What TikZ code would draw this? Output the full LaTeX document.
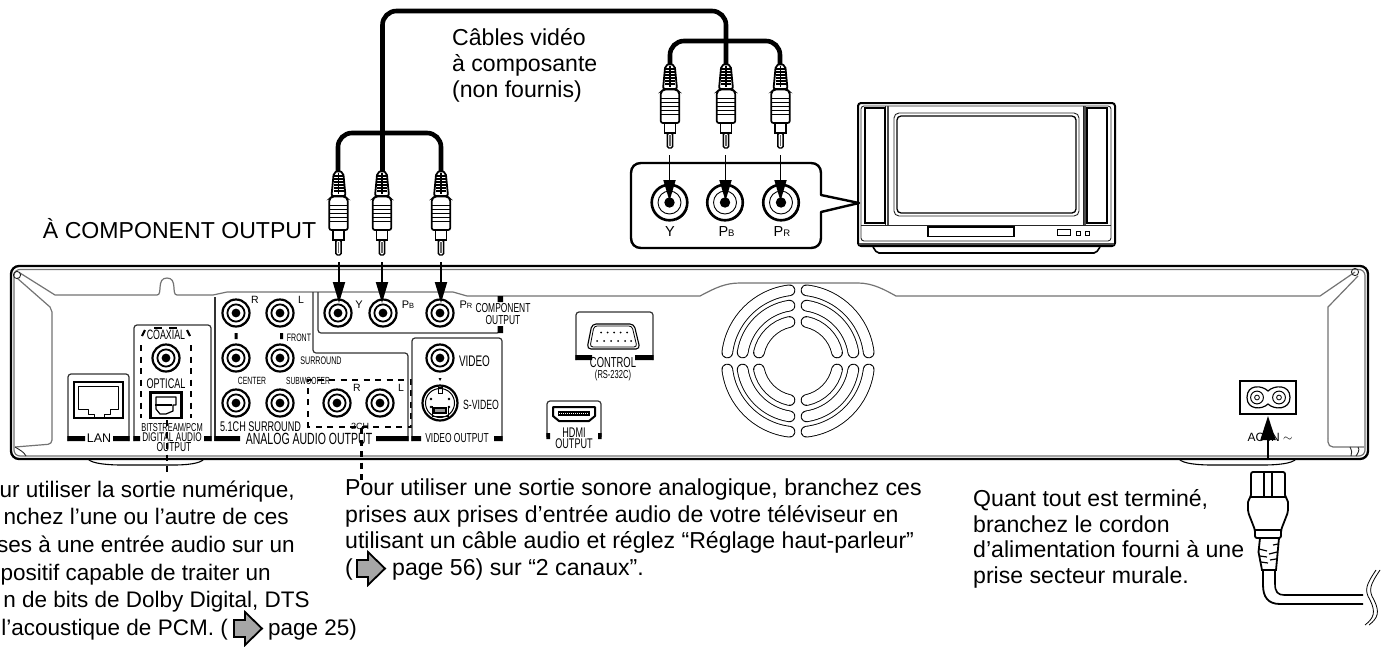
\documentclass[tikz,border=0pt]{standalone}
\usepackage{fontspec}
\setmainfont{Liberation Sans}
\newfontfamily\narrowg[FakeStretch=0.65]{Liberation Sans}
\usetikzlibrary{arrows.meta}
\newcommand\nf[1]{\narrowg\fontsize{#1}{#1}\selectfont}
\newcommand\pf[1]{\fontsize{#1}{#1}\selectfont}
\tikzset{
 x=1pt,y=-1pt,
 body/.style={font=\pf{23.1},anchor=base west,inner sep=0pt},
 bodyr/.style={font=\pf{23.1},anchor=base east,inner sep=0pt},
 bodyl/.style={font=\pf{22.5},anchor=base east,inner sep=0pt},
 lab/.style={inner sep=0pt},
 cable/.style={line width=4.6pt,rounded corners=14pt},
 sig/.style={line width=1.8pt,-{Triangle[length=21pt,width=12pt]},shorten >=0pt},
 thin1/.style={line width=0.9pt,black!85},
 panel/.style={line width=1.2pt,black!80,rounded corners=3pt},
 greyline/.style={line width=1.2pt,black!55},
 bar/.style={fill=black,draw=none},
 dsh/.style={line width=2.4pt,dash pattern=on 6pt off 5.5pt},
 go/.style={line width=1.8pt,draw=black,fill=black!35,line join=miter},
}
\newcommand\chjack[2]{%
 \fill[white] (#1,#2) circle (14.5);
 \draw[line width=2.2pt] (#1,#2) circle (13.5);
 \draw[line width=1.8pt] (#1,#2) circle (8.6);
 \fill (#1,#2) circle (4.4);
 \draw[line width=1.4pt] (#1,#2) ++(20:13.8) arc (20:70:13.8);
}
\newcommand\tvjack[2]{%
 \fill[white] (#1,#2) circle (19);
 \draw[line width=2.6pt] (#1,#2) circle (17.8);
 \draw[line width=0.9pt] (#1,#2) circle (11.5);
 \fill (#1,#2) circle (5.2);
 \draw[line width=1.6pt] (#1,#2) ++(20:18.4) arc (20:70:18.4);
}
\newcommand\rcaplug[2]{%
 \begin{scope}[shift={(#1,#2)}]
 \filldraw[fill=white,draw=black,line width=1.4pt,rounded corners=1.5pt] (-2.6,69) -- (-2.6,84) -- (2.6,84) -- (2.6,69) -- cycle;
 \fill[black!60] (-0.6,71) rectangle (0.6,82);
 \filldraw[fill=white,draw=black,line width=1.5pt] (-5.5,57) -- (-5.5,69) -- (5.5,69) -- (5.5,57) -- cycle;
 \filldraw[fill=white,draw=black,line width=1.7pt,rounded corners=2pt] (-9.2,28) -- (-9.2,59) -- (9.2,59) -- (9.2,28) -- (6.5,25.5) -- (-6.5,25.5) -- cycle;
 \foreach \yy in {34,38,42,46,50} \draw[line width=1pt] (-8.6,\yy) -- (8.6,\yy);
 \filldraw[fill=white,draw=black,line width=1.8pt,rounded corners=2pt] (-7,25) -- (-4.8,2) -- (0,-0.5) -- (4.8,2) -- (7,25) -- cycle;
 \foreach \yy in {5,8,11,14,17,20} \draw[line width=1.4pt] (-5,\yy) -- (5,\yy);
 \draw[line width=1.2pt] (0,2) -- (0,23);
 \end{scope}
}
\begin{document}
\begin{tikzpicture}
\useasboundingbox (0,0) rectangle (1384,646);
\fill[white] (0,0) rectangle (1384,646);

% chassis
\draw[line width=1.1pt,rounded corners=8pt] (88,459) .. controls (92,464) and (110,465) .. (130,465) -- (165,465) .. controls (185,465) and (200,464) .. (204,459);
\draw[line width=1.1pt,rounded corners=8pt] (1179,459) .. controls (1183,464) and (1200,465) .. (1220,465) -- (1255,465) .. controls (1275,465) and (1292,464) .. (1296,459);
\draw[line width=2.3pt,rounded corners=8pt] (11,459) rectangle (1368,266);
\draw[greyline,rounded corners=6pt] (14,456) rectangle (1365,269.5);
\draw[greyline] (20,273) -- (55,295) -- (157,295) .. controls (163,295) and (156,278) .. (167,278) .. controls (178,278) and (171,295) .. (177,295) -- (213,295) -- (227,292) -- (453,292) -- (467,296) -- (700,296) .. controls (715,288) and (725,283) .. (740,283) -- (858,283) .. controls (873,283) and (885,290) .. (896,296) -- (1320,296) -- (1355,272);
\draw[greyline] (17,278) -- (50,307) -- (52,312) -- (52,440);
\draw[greyline,rounded corners=4pt] (52,440) -- (52,444) -- (15,447);
\draw[greyline] (1358,276) -- (1328,307) -- (1328,438);
\draw[greyline,rounded corners=5pt] (1328,438) -- (1328,447) -- (1364,447);
\draw[thin1] (1355,272) circle (3.6);
\draw[thin1] (17,275) circle (3.6);
\draw[thin1] (1350,447) .. controls (1352,451) and (1352,453) .. (1351,456);
\draw[thin1] (1358,447) .. controls (1360,450) and (1358,453) .. (1356,456);
\draw[thin1] (15,447) .. controls (20,450) and (24,452) .. (26,456);

% fan
\foreach \r in {71.2,56,40}{
 \pgfmathsetmacro\d{asin(8.5/\r)}
 \foreach \q in {0,90,180,270}{
  \pgfmathsetmacro\aa{\q+\d}\pgfmathsetmacro\bb{\q+90-\d}
  \draw[line width=11.6pt,line cap=round] (798,361) ++(\aa:\r) arc (\aa:\bb:\r);
  \draw[white,line width=9.8pt,line cap=round] (798,361) ++(\aa:\r) arc (\aa:\bb:\r);
 }
}

% LAN
\draw[panel] (68,441) -- (68,374) -- (129,374) -- (129,441);
\fill[bar] (67.4,436) rectangle (85,441) (113,436) rectangle (129.6,441);
\node[lab,font=\pf{12.5}] (lan) at (99,438) {LAN};
\draw[line width=2.4pt] (74,382) rectangle (123,418);
\draw[line width=0.9pt,line join=round] (78,386) -- (118,386) -- (118,409) -- (110,409) -- (110,414) -- (104,414) -- (104,418.5) -- (94,418.5) -- (94,414) -- (88,414) -- (88,409) -- (78,409) -- cycle;

% digital audio
\draw[panel] (134,441) -- (134,325) -- (211,325) -- (211,441);
\fill[bar] (133.4,436) rectangle (140,441) (204,436) rectangle (211.6,441);
\node[lab,font=\nf{13.6}] (coax) at (166,335) {COAXIAL};
\node[lab,font=\nf{14}] (opt) at (166,384) {OPTICAL};
\draw[dsh] (141,345) -- (141,418);
\draw[dsh] (191,345) -- (191,418);
\draw[line width=2.2pt] (142,336) -- (145,330);
\draw[line width=2.2pt] (190,336) -- (187,330);
\draw[line width=2.2pt] (154,328) -- (162,328) (169,328) -- (177,328);
\chjack{166}{358}
\draw[line width=2.4pt] (150.5,392.5) rectangle (181.5,418);
\draw[line width=1.2pt,line join=round] (156,397) -- (176,397) -- (176,405) -- (173,405) -- (173,411) -- (166,414) -- (160,414) -- (156,409) -- cycle;
\draw[line width=1.2pt] (155,405) -- (172,405);
\node[lab,font=\nf{11.5}] (bits) at (172,427) {BITSTREAM/PCM};
\node[lab,font=\nf{12.6}] (dao) at (172,437.5) {DIGITAL AUDIO};
\node[lab,font=\nf{13}] (dao2) at (174,447.5) {OUTPUT};
\coordinate (dv1) at (167,420);\coordinate (dv2) at (167,475);
\draw[dsh] (dv1) -- (dv2);

% analog
\draw[panel] (215,441) -- (215,297);
\draw[panel] (313,292) -- (313,353) -- (408,353) -- (408,441);
\fill[bar] (214.4,436) rectangle (240,441) (376,436) rectangle (408.6,441);
\chjack{236}{313}\chjack{280}{313}\chjack{236}{358}\chjack{280}{358}\chjack{236}{403}\chjack{280}{403}
\fill[bar] (234.5,333) rectangle (237.5,339) (280,333) rectangle (283,339);
\node[lab,font=\pf{10.5}] (r1) at (255,300) {R};
\node[lab,font=\pf{10.5}] (l1) at (301,300) {L};
\node[lab,font=\nf{10.8}] (front) at (299,338) {FRONT};
\node[lab,font=\nf{11}] (surr) at (321,361) {SURROUND};
\node[lab,font=\nf{10.5}] (cen) at (252,381) {CENTER};
\node[lab,font=\nf{10.3}] (sub) at (308,381) {SUBWOOFER};
\node[lab,font=\nf{14}] (s51) at (260.5,427) {5.1CH SURROUND};
\node[lab,font=\nf{16.2}] (aao) at (309,438.5) {ANALOG AUDIO OUTPUT};
\draw[dsh] (308,428) -- (308,380) -- (411,380) -- (411,427) -- (308,427);
\chjack{337}{403}\chjack{380}{403}
\node[lab,font=\pf{10.5}] (r2) at (357,388) {R};
\node[lab,font=\pf{10.5}] (l2) at (401,388) {L};
\node[lab,font=\pf{9}] (ch2) at (360,426) {2CH};
\coordinate (av1) at (361.5,428);\coordinate (av2) at (361.5,481);
\draw[dsh] (av1) -- (av2);

% component
\draw[panel] (318,292) -- (318,333) -- (500,333) -- (500,328);
\fill[bar] (497.5,296) rectangle (503,302) (497.5,326) rectangle (503,333);
\chjack{338}{313}\chjack{383}{313}\chjack{440}{313}
\node[lab,font=\pf{11}] (ylab) at (359,305) {Y};
\node[lab,font=\pf{11}] (pb) at (408,305) {P\pf{7.5}B};
\node[lab,font=\pf{11}] (pr) at (466,305) {P\pf{7.5}R};
\node[lab,font=\nf{13}] (co1) at (503,308.5) {COMPONENT};
\node[lab,font=\nf{13}] (co2) at (503,320) {OUTPUT};

% video
\draw[panel] (412,441) -- (412,338) -- (502,338) -- (502,441);
\fill[bar] (411.4,436) rectangle (421,441) (494,436) rectangle (502.6,441);
\chjack{440}{358}
\node[lab,font=\nf{15.3}] (vid) at (474.5,361) {VIDEO};
\node[lab,font=\nf{13.4}] (svid) at (481,405) {S-VIDEO};
\node[lab,font=\nf{13}] (vo) at (457,438) {VIDEO OUTPUT};
\fill (438.5,378) -- (441.5,378) -- (440,381) -- cycle;
\draw[line width=2.2pt] (440,403) circle (17.5);
\draw[line width=1pt] (440,403) circle (14.5);
\draw[line width=1pt] (438,387) rectangle (442,393);
\draw[line width=1.4pt,fill=black!40] (434,408) rectangle (446,413);
\draw[line width=1pt] (432,406) -- (432,416) -- (448,416) -- (448,406);
\foreach \p in {(431,399),(449,399),(431,407),(449,407)} \fill \p circle (1.4);

% control
\draw[panel] (576,360) -- (576,312) -- (653,312) -- (653,360);
\fill[bar] (575.4,355) rectangle (592,360) (635,355) rectangle (653.6,360);
\draw[line width=1.1pt,rounded corners=4pt] (592,324) -- (634,324) -- (640,349) -- (587,349) -- cycle;
\draw[line width=0.8pt,rounded corners=3pt] (594,326) -- (632,326) -- (637,347) -- (590,347) -- cycle;
\foreach \xx in {601,607.5,614,620.5,627} \fill (\xx,332.5) circle (1);
\foreach \xx in {597,604,611,618,625,631} \fill (\xx,341) circle (1);
\node[lab,font=\nf{14.5}] (ctrl) at (613,363) {CONTROL};
\node[lab,font=\nf{11.6}] (rs) at (613,375) {(RS-232C)};

% hdmi
\draw[panel] (547,437) -- (547,401) -- (601,401) -- (601,437);
\fill[bar] (546.4,433) rectangle (550,439) (598,433) rectangle (601.6,439);
\draw[line width=2pt,line join=round] (553,407) -- (595,407) -- (595,416) -- (589,421) -- (559,421) -- (553,416) -- cycle;
\fill (558,411) rectangle (590,416);
\draw[white,line width=0.5pt,dash pattern=on 1pt off 1pt] (559,413.5) -- (589,413.5);
\node[lab,font=\nf{14}] (hd1) at (574,432.5) {HDMI};
\node[lab,font=\nf{14}] (hd2) at (574,444) {OUTPUT};

% AC
\draw[line width=2.2pt] (1240,381) rectangle (1296,414);
\draw[line width=1.2pt,fill=white] (1268,391) .. controls (1262,385) and (1247,384) .. (1247,397.5) .. controls (1247,410) and (1262,410) .. (1268,404) .. controls (1274,410) and (1290,410) .. (1290,397.5) .. controls (1290,384) and (1274,385) .. (1268,391) -- cycle;
\foreach \xx in {1257,1279}{\draw[line width=1pt] (\xx,397.5) circle (6.4);\draw[line width=0.8pt] (\xx,397.5) circle (2.4);}
\node[lab,font=\pf{12}] (acin) at (1270,437.5) {AC IN $\sim$};
\coordinate (ac0) at (1268,460);\coordinate (ac1) at (1268,416);
\draw[line width=1.8pt,-{Triangle[length=24pt,width=15pt]}] (ac0) -- (ac1);

% cables
\coordinate (a1) at (338,172);\coordinate (a2) at (382.5,172);\coordinate (a3) at (441,172);
\coordinate (b1) at (670,65);\coordinate (b2) at (726,65);\coordinate (b3) at (780,65);
\coordinate (topy) at (550,11);\coordinate (sa) at (382.5,133);\coordinate (sb) at (726,41);
\draw[cable] (a2) |- (topy) -| (b2);
\draw[cable] (a1) |- (sa) -| (a3);
\draw[cable] (b1) |- (sb) -| (b3);
\rcaplug{338.5}{171}\rcaplug{382}{171}\rcaplug{441}{171}
\rcaplug{670}{64}\rcaplug{726}{64}\rcaplug{780.5}{64}

% callout + jacks
\draw[line width=2.4pt,line join=round,fill=white] (641,163) -- (811,163) .. controls (817,163) and (821,167) .. (821,173) -- (821,195) -- (859,203) -- (821,212) -- (821,238) .. controls (821,244) and (817,248) .. (811,248) -- (641,248) .. controls (635,248) and (631,244) .. (631,238) -- (631,173) .. controls (631,167) and (635,163) .. (641,163) -- cycle;
\tvjack{669.5}{202.5}\tvjack{725}{202.5}\tvjack{781}{202.5}
\node[lab,font=\pf{14.5}] (ty) at (670,232) {Y};
\node[lab,font=\pf{14.5}] (tb) at (726.5,232) {P\pf{9.5}B};
\node[lab,font=\pf{14.5}] (tr) at (782,232) {P\pf{9.5}R};

% arrows plug to jack
\foreach \n/\xa/\ya/\yb in {p1/339/262/303,p2/382/262/303,p3/441/262/303}{\coordinate (\n s) at (\xa,\ya);\coordinate (\n e) at (\xa,\yb);\draw[sig] (\n s) -- (\n e);}
\foreach \n/\xa/\ya/\yb in {q1/669.5/155/201,q2/725.5/155/201,q3/780.5/155/201}{\coordinate (\n s) at (\xa,\ya);\coordinate (\n e) at (\xa,\yb);\draw[sig] (\n s) -- (\n e);}

% TV
\draw[line width=1.6pt,rounded corners=2pt] (873,247) -- (877,253) -- (1096,253) -- (1100,247);
\draw[line width=2pt,rounded corners=3pt] (858,246) rectangle (1115,103);
\draw[line width=1.6pt,black!70] (859,244) -- (1114,244);
\draw[thin1,rounded corners=3pt] (861,241) rectangle (1111,106);
\draw[thin1] (861,225) -- (1111,225);
\draw[thin1] (885,106) -- (885,225);
\draw[line width=1.4pt,black!70] (888,106) -- (888,225);
\draw[line width=1.5pt,black!70] (1085,106) -- (1085,225);
\draw[thin1] (1083,106) -- (1083,225);
\draw[line width=1.1pt] (865,108) rectangle (885,223);
\draw[line width=1.1pt] (1087,108) rectangle (1107,223);
\draw[thin1,rounded corners=5pt] (894,113) rectangle (1079,216);
\draw[line width=1.3pt,rounded corners=4pt] (897,116) rectangle (1076,213);
\draw[line width=1.1pt] (928,227) rectangle (1014,236.5);
\draw[line width=1pt] (1057,229) rectangle (1070,235);
\draw[line width=1pt] (1076,231) rectangle (1080,235);
\draw[line width=1pt] (1085,231) rectangle (1089,235);

% power plug
\draw[line width=1.8pt,line join=round] (1263,570) -- (1263,585) .. controls (1263,597) and (1268,604) .. (1280,604) -- (1363,604);
\draw[line width=1.6pt,line join=round] (1275,570) -- (1275,584) .. controls (1275,592) and (1278,595) .. (1284,595) -- (1363,595);
\filldraw[fill=white,line width=1.8pt] (1260,538) -- (1258.5,552) -- (1262,570) -- (1276,570) -- (1279,538) -- cycle;
\draw[line width=1.2pt] (1259,549) -- (1267,551) (1273,545) -- (1278,544) (1260,556) -- (1267,557) (1269,554) -- (1277,552) (1261,562) -- (1268,563) (1270,560) -- (1276,559);
\filldraw[fill=white,line width=1.8pt,rounded corners=2pt] (1251,472) -- (1251,497) -- (1248,500) -- (1248,512) -- (1255,530) -- (1255,538) -- (1281,538) -- (1281,530) -- (1288,512) -- (1288,500) -- (1285,497) -- (1285,472) -- cycle;
\draw[line width=1.2pt] (1264,472) -- (1264,497) (1272,472) -- (1272,497) (1250,497) -- (1286,497);
\draw[line width=1.2pt] (1255,530) -- (1281,530);
\draw[line width=0.8pt] (1376,570) .. controls (1366,585) and (1364,590) .. (1370,600) .. controls (1376,612) and (1374,618) .. (1365,625);
\draw[line width=0.8pt] (1380,570) .. controls (1370,585) and (1368,590) .. (1374,600) .. controls (1380,612) and (1378,618) .. (1369,625);

% text
\node[body] (t1) at (452,45) {Câbles vidéo};
\node[body] (t2) at (452,71) {à composante};
\node[body] (t3) at (452,97) {(non fournis)};
\node[bodyr] (t4) at (316.5,238) {À COMPONENT OUTPUT};
\node[bodyl] (l1a) at (295,497) {ur utiliser la sortie numérique,};
\node[bodyl] (l2a) at (289,524) {nchez l’une ou l’autre de ces};
\node[bodyl] (l3a) at (295,552) {ses à une entrée audio sur un};
\node[bodyl] (l4a) at (271,580) {positif capable de traiter un};
\node[bodyl] (l5a) at (310,607) {n de bits de Dolby Digital, DTS};
\node[bodyl] (l6a) at (228,635) {l’acoustique de PCM. (};
\draw[go] (234,620) -- (245,620) -- (245,612) -- (262,628.5) -- (245,645) -- (245,637) -- (234,637) -- cycle;
\node[body,font=\pf{22.5}] (l6b) at (268,635) {page 25)};
\node[body] (m1) at (345,495) {Pour utiliser une sortie sonore analogique, branchez ces};
\node[body] (m2) at (345,522) {prises aux prises d’entrée audio de votre téléviseur en};
\node[body] (m3) at (345,548) {utilisant un câble audio et réglez “Réglage haut-parleur”};
\node[body] (m4) at (345,575) {(};
\draw[go] (357,560) -- (368,560) -- (368,552) -- (385,568.5) -- (368,585) -- (368,577) -- (357,577) -- cycle;
\node[body] (m5) at (392,575) {page 56) sur “2 canaux”.};
\node[body] (r1a) at (973,506) {Quant tout est terminé,};
\node[body] (r2a) at (973,532) {branchez le cordon};
\node[body] (r3a) at (973,557) {d’alimentation fourni à une};
\node[body] (r4a) at (973,583) {prise secteur murale.};
\end{tikzpicture}
\end{document}
